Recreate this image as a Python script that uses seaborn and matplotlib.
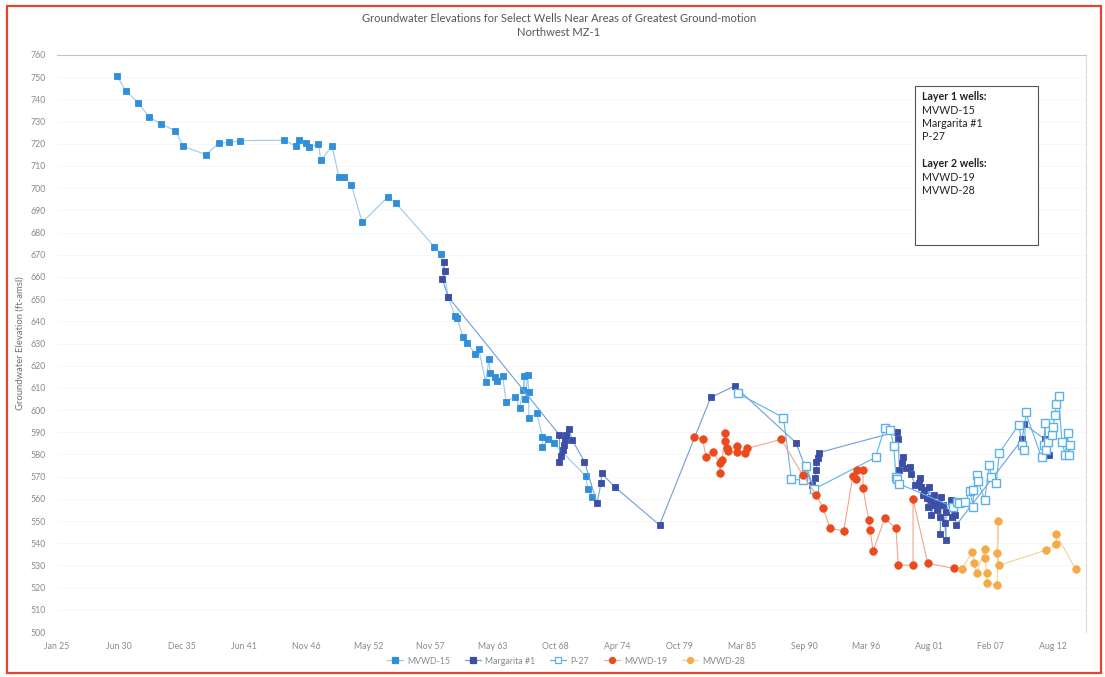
import numpy as np
import pandas as pd
import matplotlib
matplotlib.use("Agg")
import matplotlib.pyplot as plt
import matplotlib.dates as mdates
from matplotlib.patches import Rectangle
from matplotlib.lines import Line2D
from matplotlib.ticker import FixedLocator
import seaborn as sns

# ---- measured groundwater elevations (decimal year, ft-amsl) ----
mvwd15_year = [1930.3, 1931.07, 1932.15, 1933.07, 1934.15, 1935.4, 1936.1, 1938.1, 1939.25, 1940.1,
               1941.1, 1945.0, 1946.0, 1946.3, 1946.9, 1947.2, 1948.0, 1948.2, 1949.2, 1949.8,
               1950.25, 1950.9, 1951.85, 1954.1, 1954.8, 1958.2, 1958.8, 1959.4, 1960.0, 1960.2,
               1960.7, 1961.1, 1961.8, 1962.1, 1962.7, 1963.0, 1963.1, 1963.5, 1963.7, 1964.2,
               1964.5, 1965.3, 1965.7, 1966.0, 1966.1, 1966.2, 1966.4, 1966.5, 1966.5, 1967.2,
               1967.7, 1967.7, 1968.2, 1968.7, 1971.5, 1971.7, 1972.1]
mvwd15_elev = [750.5, 743.6, 738.5, 732.2, 728.9, 725.9, 718.9, 715.1, 720.3, 720.6,
               721.4, 721.6, 718.9, 721.7, 720.3, 718.4, 720.0, 712.5, 718.9, 705.0,
               705.0, 701.4, 684.6, 696.0, 693.3, 673.6, 670.3, 651.1, 642.4, 641.5,
               633.0, 630.3, 625.2, 627.4, 612.8, 622.9, 616.5, 615.0, 613.3, 615.5,
               603.8, 606.0, 601.1, 609.0, 615.3, 605.0, 615.8, 608.3, 596.6, 598.5,
               588.0, 583.5, 586.8, 585.0, 570.3, 564.3, 561.0]

margarita_year = [1959.0, 1959.1, 1958.9, 1959.4, 1969.2, 1969.2, 1969.3, 1969.5, 1969.6, 1969.7,
                  1969.8, 1970.0, 1970.3, 1971.4, 1972.5, 1972.85, 1972.9, 1974.1, 1978.0, 1982.5,
                  1984.6, 1990.0, 1991.4, 1991.7, 1991.8, 1991.8, 1991.9, 1992.0, 1998.9, 1999.0,
                  1999.1, 1999.3, 1999.4, 1999.7, 2000.0, 2000.1, 2000.5, 2000.8, 2000.9, 2001.0,
                  2001.2, 2001.3, 2001.5, 2001.6, 2001.7, 2001.9, 2001.9, 2002.1, 2002.1, 2002.4,
                  2002.5, 2002.7, 2002.7, 2002.8, 2002.9, 2003.1, 2003.2, 2003.2, 2003.6, 2003.7,
                  2003.9, 2004.0, 2004.1, 2009.9, 2010.1, 2011.9, 2012.3]
margarita_elev = [666.9, 662.6, 658.9, 651.1, 588.8, 576.7, 579.3, 582.0, 584.2, 586.5,
                  588.8, 591.6, 586.7, 576.7, 558.0, 567.0, 571.5, 565.2, 548.2, 605.7,
                  610.8, 585.3, 566.2, 569.2, 573.0, 576.7, 578.2, 580.8, 590.3, 587.0,
                  572.9, 576.0, 578.7, 573.7, 574.2, 571.4, 566.2, 567.0, 569.2, 565.4,
                  561.7, 564.0, 560.2, 556.4, 565.4, 559.4, 552.7, 557.2, 561.7, 554.9,
                  558.0, 552.0, 544.1, 560.9, 557.2, 549.0, 541.4, 554.2, 559.4, 551.9,
                  556.4, 552.7, 548.2, 586.8, 593.6, 586.8, 579.7]

p27_year = [1984.9, 1988.9, 1989.6, 1990.6, 1990.9, 1991.6, 1997.0, 1997.8, 1998.3, 1998.6,
            1998.8, 1998.9, 1999.1, 2003.8, 2004.2, 2004.3, 2004.9, 2005.3, 2005.6, 2005.6,
            2005.9, 2006.0, 2006.6, 2007.0, 2007.2, 2007.6, 2007.9, 2009.6, 2009.9, 2010.1,
            2010.2, 2011.6, 2011.8, 2011.9, 2012.0, 2012.2, 2012.5, 2012.6, 2012.8, 2012.9,
            2013.1, 2013.4, 2013.7, 2013.9, 2014.0, 2014.1]
p27_elev = [607.5, 596.6, 568.8, 568.5, 574.8, 564.4, 578.7, 592.0, 591.0, 584.0,
            570.0, 568.8, 566.7, 556.4, 558.7, 558.2, 558.7, 563.5, 556.4, 564.0,
            570.7, 568.2, 559.4, 575.2, 570.0, 567.0, 580.8, 593.4, 584.2, 582.0,
            599.0, 578.7, 584.2, 594.0, 582.0, 585.7, 588.7, 592.5, 597.7, 602.7,
            606.3, 585.7, 579.7, 589.5, 579.7, 584.2]

mvwd19_year = [1981.0, 1981.8, 1982.1, 1982.7, 1983.3, 1983.3, 1983.5, 1983.8, 1983.8, 1983.9,
               1984.0, 1984.8, 1984.8, 1985.5, 1985.7, 1988.7, 1990.6, 1991.8, 1992.4, 1993.0,
               1994.2, 1995.0, 1995.3, 1995.4, 1995.9, 1995.9, 1996.4, 1996.5, 1996.8, 1997.8,
               1998.8, 1999.0, 2000.3, 2000.3, 2001.6, 2003.9]
mvwd19_elev = [587.9, 586.8, 578.7, 581.3, 576.0, 571.7, 577.5, 589.8, 586.2, 582.7,
               581.7, 583.8, 581.3, 580.8, 582.7, 586.8, 570.7, 561.7, 555.7, 546.7,
               545.5, 570.3, 568.8, 573.0, 573.0, 564.7, 550.4, 545.9, 536.6, 551.2,
               546.7, 530.1, 530.1, 559.8, 530.9, 528.7]

mvwd28_year = [2004.6, 2005.5, 2005.7, 2005.9, 2006.6, 2006.6, 2006.8, 2006.8, 2007.7, 2007.8,
               2007.7, 2007.9, 2012.0, 2012.9, 2012.9, 2014.6]
mvwd28_elev = [528.2, 536.2, 531.2, 526.4, 537.2, 533.2, 526.4, 522.2, 521.1, 550.2,
               535.4, 530.1, 536.9, 539.6, 544.1, 528.2]

well_names = ["MVWD-15", "Margarita #1", "P-27", "MVWD-19", "MVWD-28"]
layer1_wells = ["MVWD-15", "Margarita #1", "P-27"]
layer2_wells = ["MVWD-19", "MVWD-28"]
y_ticks = list(range(500, 761, 10))

EPOCH = pd.Timestamp("1925-01-01")


def to_dates(years):
    return [EPOCH + pd.Timedelta(days=(y - 1925.0) * 365.25) for y in years]


frames = []
for name, yrs, elev in [("MVWD-15", mvwd15_year, mvwd15_elev),
                        ("Margarita #1", margarita_year, margarita_elev),
                        ("P-27", p27_year, p27_elev),
                        ("MVWD-19", mvwd19_year, mvwd19_elev),
                        ("MVWD-28", mvwd28_year, mvwd28_elev)]:
    frames.append(pd.DataFrame({"date": to_dates(yrs), "elev": elev, "well": name}))
df = pd.concat(frames, ignore_index=True)

# series styling: line colour, marker shape, face, edge, size
styles = {
    "MVWD-15": dict(color="#9cc9ec", marker="s", markerfacecolor="#2f8fd8",
                    markeredgecolor="#2f8fd8", markersize=5.0),
    "Margarita #1": dict(color="#6f9fd8", marker="s", markerfacecolor="#3d4ea6",
                         markeredgecolor="#3d4ea6", markersize=5.0),
    "P-27": dict(color="#5db3e8", marker="s", markerfacecolor="white",
                 markeredgecolor="#5ab2e8", markersize=5.2),
    "MVWD-19": dict(color="#f2a58a", marker="o", markerfacecolor="#ea4a1e",
                    markeredgecolor="#ea4a1e", markersize=5.4),
    "MVWD-28": dict(color="#f7cf9a", marker="o", markerfacecolor="#f5aa48",
                    markeredgecolor="#f5aa48", markersize=5.4),
}

sns.set_theme(style="white")
plt.rcParams["font.family"] = ["Lato", "DejaVu Sans"]

W, H = 1105, 677
fig = plt.figure(figsize=(W / 100, H / 100), dpi=100)
ax = fig.add_axes([57 / W, 45 / H, (1086 - 57) / W, (632 - 55) / H])

for name in well_names:
    sub = df[df["well"] == name]
    st = styles[name]
    sns.lineplot(data=sub, x="date", y="elev", sort=False, estimator=None, ax=ax,
                 linewidth=0.8, markeredgewidth=1.0 if name == "P-27" else 0.6,
                 legend=False, **st)

# axes ranges and ticks
x_min = EPOCH
x_max = EPOCH + pd.Timedelta(days=33060)
ax.set_xlim(mdates.date2num(x_min), mdates.date2num(x_max))
tick_dates = [EPOCH + pd.Timedelta(days=2000 * k) for k in range(17)]
ax.xaxis.set_major_locator(FixedLocator(mdates.date2num(tick_dates)))
ax.xaxis.set_major_formatter(mdates.DateFormatter("%b %y"))
ax.set_ylim(500, 760)
ax.set_yticks(y_ticks)

ax.tick_params(axis="both", length=0, labelsize=6.3, labelcolor="#8a8a8a")
ax.tick_params(axis="y", pad=8)
ax.tick_params(axis="x", pad=7)

ax.grid(axis="y", color="#f6f6f6", linewidth=0.6)
ax.set_axisbelow(True)
for side in ["left", "bottom"]:
    ax.spines[side].set_visible(False)
ax.spines["top"].set_color("#c4c4c4")
ax.spines["top"].set_linewidth(0.8)
ax.spines["right"].set_color("#dcdcdc")
ax.spines["right"].set_linewidth(0.8)

ax.set_xlabel("")
ax.set_ylabel("Groundwater Elevation (ft-amsl)", fontsize=6.8, color="#707070", labelpad=4)

# title
fig.text(559 / W, 1 - 18 / H, "Groundwater Elevations for Select Wells Near Areas of Greatest Ground-motion",
         ha="center", va="center", fontsize=8, color="#555555")
fig.text(559 / W, 1 - 33 / H, "Northwest MZ-1", ha="center", va="center", fontsize=8, color="#555555")

# legend
handles = []
for name in well_names:
    st = styles[name]
    handles.append(Line2D([0], [0], color=st["color"], lw=0.9, marker=st["marker"],
                          markerfacecolor=st["markerfacecolor"],
                          markeredgecolor=st["markeredgecolor"],
                          markersize=4.3, markeredgewidth=0.9))
fig.legend(handles, well_names, loc="center", bbox_to_anchor=(566 / W, 1 - 661 / H), ncol=5,
           frameon=False, fontsize=6.3, handlelength=1.8, columnspacing=1.7,
           handletextpad=0.5, labelcolor="#8a8a8a")

# well-layer note box
fig.patches.append(Rectangle((915 / W, 1 - 245 / H), (1038 - 915) / W, (245 - 86) / H,
                             transform=fig.transFigure, fill=True, facecolor="white",
                             edgecolor="#555555", linewidth=0.8, zorder=5))
note_lines = [("Layer 1 wells:", True)] + [(w, False) for w in layer1_wells] + \
             [("", False), ("Layer 2 wells:", True)] + [(w, False) for w in layer2_wells]
y_px = 96.7
for text, bold in note_lines:
    if text:
        fig.text(922 / W, 1 - y_px / H, text, ha="left", va="center", fontsize=7.7,
                 fontweight="bold" if bold else "normal", color="#222222", zorder=6)
    y_px += 13.4

# page frame
fig.patches.append(Rectangle((7 / W, 1 - 673 / H), (1101 - 7) / W, (673 - 6) / H,
                             transform=fig.transFigure, fill=False,
                             edgecolor="#e4452e", linewidth=1.6, zorder=10))

fig.savefig("out.png", dpi=100)
